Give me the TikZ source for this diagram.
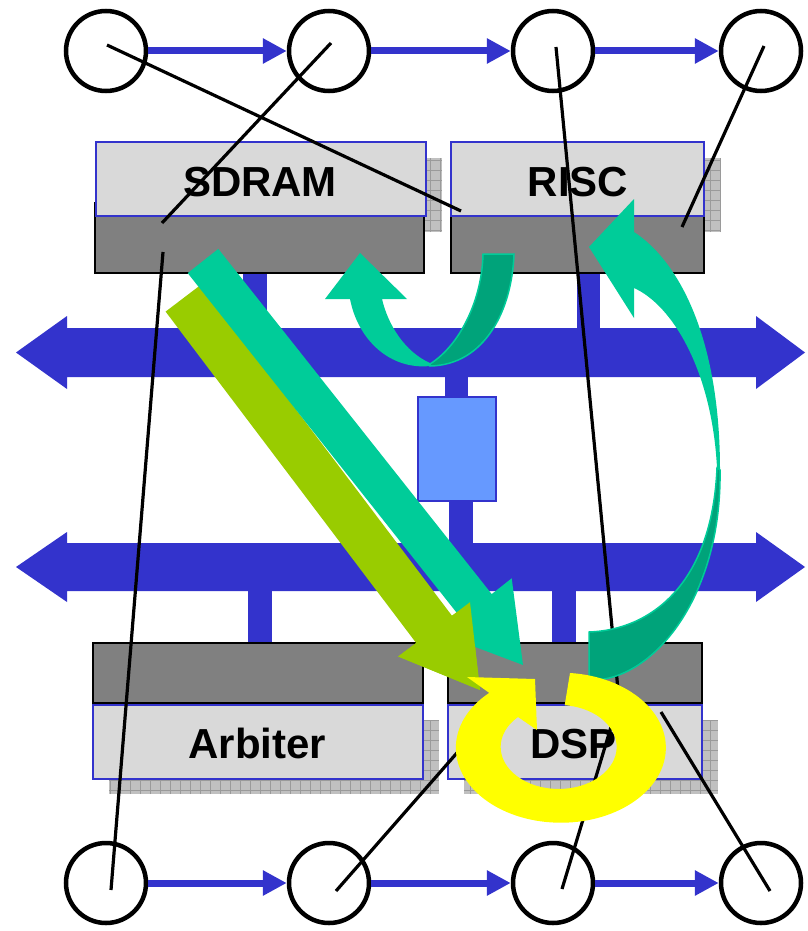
\documentclass[tikz,border=0pt]{standalone}
\usepackage{fontspec}
\setmainfont{Liberation Sans}
\usetikzlibrary{arrows.meta}
\definecolor{busblue}{HTML}{3333CC}
\definecolor{lightbox}{HTML}{D9D9D9}
\definecolor{darkbox}{HTML}{808080}
\definecolor{midblue}{HTML}{6699FF}
\definecolor{tealA}{HTML}{00CC99}
\definecolor{tealB}{HTML}{00A37A}
\definecolor{oliveA}{HTML}{99CC00}
\definecolor{shadowgray}{HTML}{C0C0C0}
\definecolor{shadowline}{HTML}{9A9A9A}
\definecolor{ringyellow}{HTML}{FFFF00}
\begin{document}
\begin{tikzpicture}[x=1pt,y=-1pt,
  circ/.style={circle, draw=black, line width=4.5pt, minimum size=80pt, inner sep=0pt, fill=white},
  chainarrow/.style={busblue, line width=7pt, -{Triangle[length=24pt,width=24pt]}},
  mapline/.style={black, line width=3.2pt},
  boxtext/.style={font=\fontsize{42}{50}\selectfont\bfseries, anchor=base, inner sep=0pt},
  lightrect/.style={fill=lightbox, draw=busblue, line width=2pt},
  darkrect/.style={fill=darkbox, draw=black, line width=2pt},
  shadowrect/.style={fill=shadowgray},
  shadowgrid/.style={shadowline, line width=0.6pt},
  busfill/.style={fill=busblue},
  ribbonback/.style={fill=tealB, draw=tealA, line width=1.5pt},
]
\useasboundingbox (0,0) rectangle (807,931);

% buses
\fill[busfill] (16,352.5) -- (67,316) -- (67,328) -- (756,328) -- (756,316) -- (805,352.5) -- (756,389) -- (756,377) -- (67,377) -- (67,389) -- cycle;
\fill[busfill] (16,567) -- (67,532) -- (67,543) -- (756,543) -- (756,532) -- (805,567) -- (756,602) -- (756,591) -- (67,591) -- (67,602) -- cycle;

% stems
\fill[busfill] (243,270) rectangle (267,330);
\fill[busfill] (577,270) rectangle (600,330);
\fill[busfill] (445,375) rectangle (468,399);
\fill[busfill] (449,499) rectangle (473,545);
\fill[busfill] (248,589) rectangle (272,645);
\fill[busfill] (552,589) rectangle (576,645);

% bridge box
\node[draw=busblue, fill=midblue, line width=2pt, minimum width=78pt, minimum height=104pt, inner sep=0pt] (bridge) at (457,449) {};

% SDRAM
\fill[shadowrect] (112,158) rectangle (442,232);
\draw[shadowgrid, step=10pt] (112,158) grid (442,232);
\draw[darkrect] (95,203) rectangle (424,273);
\draw[lightrect] (96,142) rectangle (426,216);
\node[boxtext] (sdram) at (260,196) {SDRAM};

% RISC
\fill[shadowrect] (467,158) rectangle (720,232);
\draw[shadowgrid, step=10pt] (467,158) grid (720,232);
\draw[darkrect] (451,203) rectangle (704,273);
\draw[lightrect] (451,142) rectangle (704,216);
\node[boxtext] (risc) at (578,196) {RISC};

% Arbiter
\fill[shadowrect] (109,720) rectangle (439,794);
\draw[shadowgrid, step=10pt] (109,720) grid (439,794);
\draw[darkrect] (93,643) rectangle (423,703);
\draw[lightrect] (93,705) rectangle (423,779);
\node[boxtext] (arbiter) at (257.5,758) {Arbiter};

% DSP
\fill[shadowrect] (464,720) rectangle (718,794);
\draw[shadowgrid, step=10pt] (464,720) grid (718,794);
\draw[darkrect] (448,643) rectangle (702,703);
\draw[lightrect] (448,705) rectangle (702,779);
\node[boxtext] (dsp) at (573.5,758) {DSP};

% circles
\node[circ] (t1) at (106,51) {};
\node[circ] (t2) at (329,51) {};
\node[circ] (t3) at (553,51) {};
\node[circ] (t4) at (761,51) {};
\node[circ] (b1) at (106,883) {};
\node[circ] (b2) at (329,883) {};
\node[circ] (b3) at (553,883) {};
\node[circ] (b4) at (761,883) {};
\draw[chainarrow] (t1) -- (t2);
\draw[chainarrow] (t2) -- (t3);
\draw[chainarrow] (t3) -- (t4);
\draw[chainarrow] (b1) -- (b2);
\draw[chainarrow] (b2) -- (b3);
\draw[chainarrow] (b3) -- (b4);

% mapping lines
\coordinate (p1a) at (107,45);  \coordinate (p1b) at (461,211);
\coordinate (p2a) at (331,43);  \coordinate (p2b) at (162,223);
\coordinate (p3a) at (556,47);  \coordinate (p3b) at (619,700);
\coordinate (p4a) at (764,46);  \coordinate (p4b) at (682,227);
\coordinate (p5a) at (163,252); \coordinate (p5b) at (111,890);
\coordinate (p6a) at (336,891); \coordinate (p6b) at (470,738);
\coordinate (p7a) at (562,889); \coordinate (p7b) at (611,727);
\coordinate (p8a) at (770,891); \coordinate (p8b) at (661,712);
\draw[mapline] (p1a) -- (p1b);
\draw[mapline] (p2a) -- (p2b);
\draw[mapline] (p3a) -- (p3b);
\draw[mapline] (p4a) -- (p4b);
\draw[mapline] (p5a) -- (p5b);
\draw[mapline] (p6a) -- (p6b);
\draw[mapline] (p7a) -- (p7b);
\draw[mapline] (p8a) -- (p8b);

% straight olive arrow
\fill[oliveA] (165.6,311.6) -- (201.4,284.4) -- (452,615.8) -- (470,602.2) -- (480,690) -- (398.2,656.5) -- (416.2,643) -- cycle;
% straight teal arrow (shaft over olive at the top)
\fill[tealA] (187.7,273.1) -- (218.3,248.9) -- (491.7,594.1) -- (511.7,578.3) -- (523,665) -- (441.1,634.1) -- (461.1,618.3) -- cycle;
% olive head on top of teal
\fill[oliveA] (452,615.8) -- (470,602.2) -- (480,690) -- (398.2,656.5) -- (416.2,643) -- cycle;

% U arrow (RISC -> SDRAM)
\fill[tealA] (325,299) -- (360,253) -- (407,299) -- (382,299) .. controls (388,325) and (405,352) .. (430,363) -- (430,366) .. controls (390,370) and (358,340) .. (350,299) -- cycle;
\filldraw[ribbonback] (430,364) .. controls (460,345) and (482,300) .. (483,254) -- (514,254) .. controls (512,310) and (485,365) .. (430,366) -- cycle;

% big curved arrow (DSP -> RISC)
\fill[tealA] (634,232) .. controls (680,262) and (720,340) .. (720,470) -- (717,468) .. controls (712,370) and (672,305) .. (634,288) -- (634,318) -- (589,247) -- (634,199) -- cycle;
\filldraw[ribbonback] (717,468) .. controls (712,585) and (650,630) .. (589,632) -- (589,680) .. controls (650,683) and (722,600) .. (720,470) -- cycle;

% yellow circular arrow
\fill[ringyellow] (570,673) arc[start angle=-85, end angle=227, x radius=105, y radius=75] -- (467,677) -- (535,679) -- (537,730) -- (518,717) arc[start angle=225.5, end angle=-84, x radius=58, y radius=42] -- cycle;
\end{tikzpicture}
\end{document}
